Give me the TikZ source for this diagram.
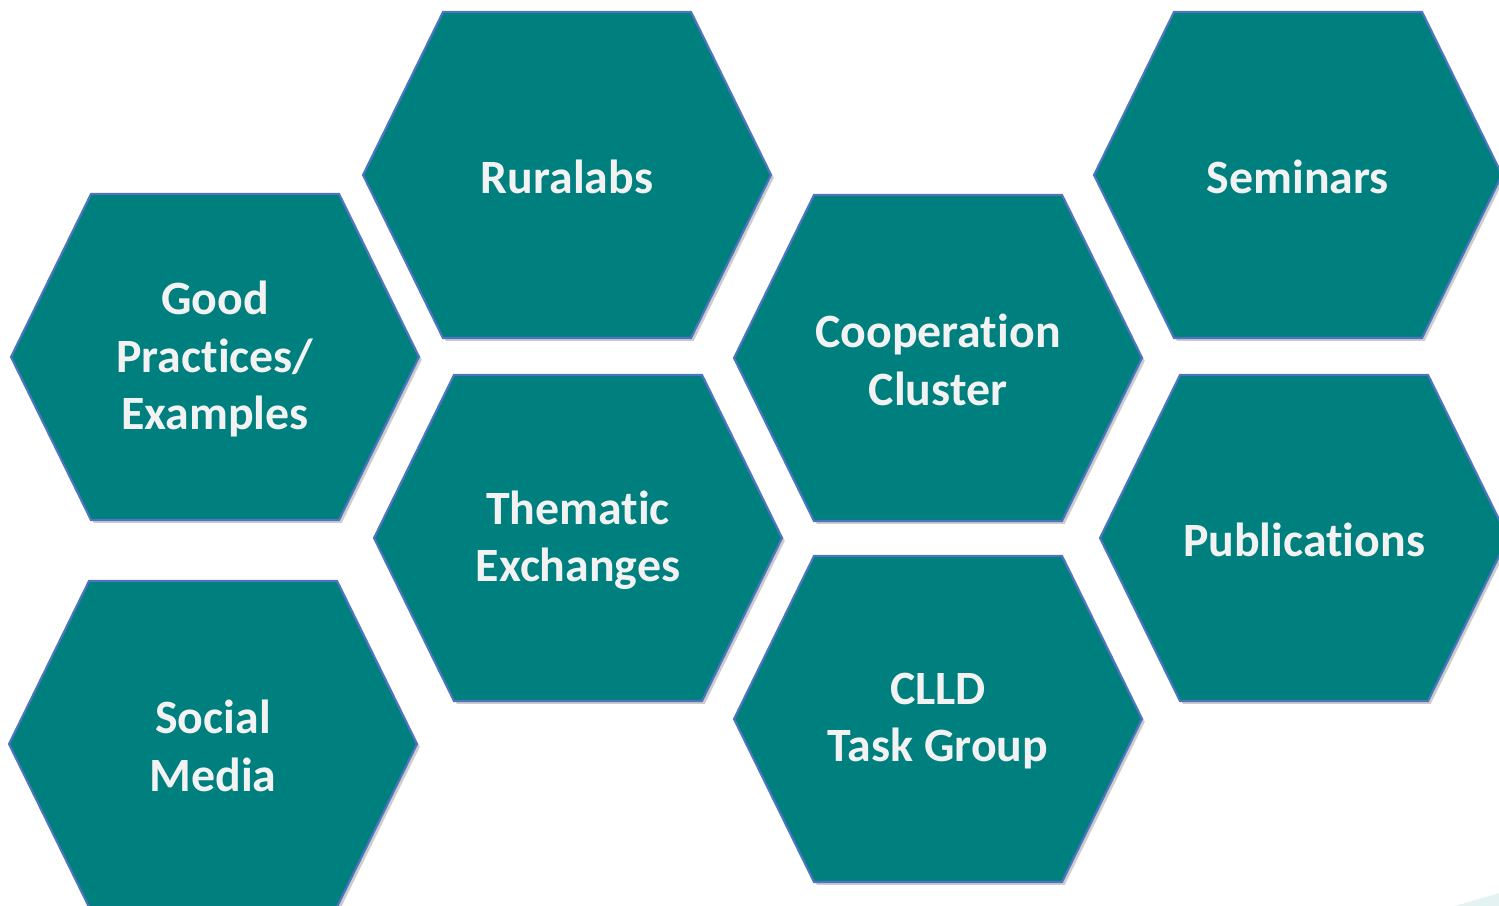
\documentclass[tikz,border=0pt]{standalone}
\usepackage{fontspec}
\setmainfont[Ligatures=NoCommon]{Carlito}
\usetikzlibrary{shadows}

\definecolor{hexfill}{HTML}{007F7F}
\definecolor{hexline}{HTML}{4F74C0}
\definecolor{hextext}{HTML}{F2F2F2}

\begin{document}
\begin{tikzpicture}[
    x=0.01cm, y=-0.01cm,
    hexagon/.style={
        fill=hexfill,
        draw=hexline,
        line width=0.6pt,
        line join=miter,
        drop shadow={shadow xshift=0.8pt, shadow yshift=-0.8pt, opacity=0.2, fill=black}
    },
    hex label/.style={
        text=hextext,
        align=center,
        yshift=-0.02cm,
        font=\fontsize{13.6}{16.3}\selectfont\bfseries
    }
]

\clip (0,0) rectangle (1499,906);

% Hexagons with their labels
\foreach \x/\y/\n/\t in {
    567/175/ruralabs/{Ruralabs},
    215/357/practices/{Good\\Practices/\\Examples},
    213/744/social/{Social\\Media},
    578/538/thematic/{Thematic\\Exchanges},
    938/358/cooperation/{Cooperation\\Cluster},
    938/719/clld/{CLLD\\Task Group},
    1298/175/seminars/{Seminars},
    1304/538/publications/{Publications}}
{
    \draw [hexagon] (\x,\y) +(-204,0) -- +(-124,-163) -- +(124,-163)
        -- +(204,0) -- +(124,163) -- +(-124,163) -- cycle;
    \node [hex label] (\n) at (\x,\y) {\t};
}

% Corner piece
\fill [hexfill!10] (1455,906) -- (1499,893) -- (1499,906) -- cycle;

\end{tikzpicture}
\end{document}
